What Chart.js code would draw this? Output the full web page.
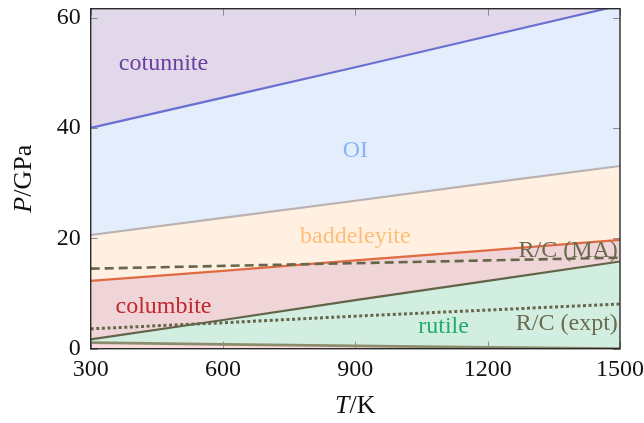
<!DOCTYPE html>
<html>
<head>
<meta charset="utf-8">
<title>TiO2 phase diagram</title>
<script src="https://cdn.jsdelivr.net/npm/chart.js@4/dist/chart.umd.min.js"></script>
<style>
  html, body { margin: 0; padding: 0; background: #fff; }
  #wrap { width: 644px; height: 423px; position: relative; }
</style>
</head>
<body>
<div id="wrap"><canvas id="c"></canvas></div>
<script>
// Temperatures (K) at which each phase boundary is sampled
const temps = [300, 600, 900, 1200, 1500];

// Phase boundaries, pressure in GPa
const cotunniteOI   = [40.0, 45.5, 51.0, 56.6, 62.2];
const oiBaddeleyite = [20.6, 23.7, 26.8, 30.0, 33.1];
const baddColumbite = [12.3, 14.1, 16.0, 17.8, 19.7];
const columbiteRut  = [1.7, 5.2, 8.8, 12.3, 15.8];
const lowerBound    = [1.1, 0.8, 0.5, 0.25, 0.0];

// Rutile/columbite transition lines
const rcMA   = [14.5, 15.0, 15.5, 16.0, 16.5];
const rcExpt = [3.6, 4.7, 5.9, 7.0, 8.1];

// Axis ticks
const xTicks = [300, 600, 900, 1200, 1500];
const yTicks = [0, 20, 40, 60];

// Region labels: text, T, P (anchor), colour, alignment
const regionLabels = [
  { text: 'cotunnite',  t: 465,  p: 50.5, color: '#6b3fa0', align: 'center' },
  { text: 'OI',         t: 900,  p: 34.7, color: '#8ab4f8', align: 'center' },
  { text: 'baddeleyite',t: 900,  p: 19.2, color: '#ffbe78', align: 'center' },
  { text: 'R/C (MA)',   t: 1495, p: 16.7, color: '#6b6b50', align: 'right' },
  { text: 'columbite',  t: 465,  p: 6.5,  color: '#c0282e', align: 'center' },
  { text: 'rutile',     t: 1100, p: 2.9,  color: '#22ad6e', align: 'center' },
  { text: 'R/C (expt)', t: 1495, p: 3.4,  color: '#6b6b50', align: 'right' }
];

const FONT = '"Liberation Serif", "Times New Roman", serif';

function pts(ys) { return temps.map((t, i) => ({ x: t, y: ys[i] })); }

// Frame, inward tick marks, axis titles and region labels
const decorations = {
  id: 'decorations',
  afterDatasetsDraw(chart) {
    const { ctx, chartArea: a, scales: { x, y } } = chart;
    ctx.save();
    ctx.font = '24px ' + FONT;
    ctx.textBaseline = 'alphabetic';
    regionLabels.forEach(l => {
      ctx.fillStyle = l.color;
      ctx.textAlign = l.align;
      ctx.fillText(l.text, x.getPixelForValue(l.t), y.getPixelForValue(l.p));
    });

    // inward tick marks
    ctx.strokeStyle = '#8c8c8c';
    ctx.lineWidth = 1;
    const len = 7;
    xTicks.forEach(v => {
      const px = Math.round(x.getPixelForValue(v)) + 0.5;
      ctx.beginPath();
      ctx.moveTo(px, a.bottom); ctx.lineTo(px, a.bottom - len);
      ctx.moveTo(px, a.top); ctx.lineTo(px, a.top + len);
      ctx.stroke();
    });
    yTicks.forEach(v => {
      const py = Math.round(y.getPixelForValue(v)) + 0.5;
      ctx.beginPath();
      ctx.moveTo(a.left, py); ctx.lineTo(a.left + len, py);
      ctx.moveTo(a.right, py); ctx.lineTo(a.right - len, py);
      ctx.stroke();
    });

    // frame
    ctx.strokeStyle = '#2a2a2a';
    ctx.lineWidth = 1.4;
    ctx.strokeRect(a.left, a.top, a.right - a.left, a.bottom - a.top);
    ctx.restore();
  },
  afterDraw(chart) {
    const { ctx, chartArea: a } = chart;
    ctx.save();
    ctx.fillStyle = '#111';
    ctx.textBaseline = 'alphabetic';
    // axis titles with an italic symbol followed by an upright unit
    const drawMixed = (parts, cx, baseY) => {
      let w = 0;
      parts.forEach(p => { ctx.font = p[1] + ' 26px ' + FONT; w += ctx.measureText(p[0]).width; });
      let cur = cx - w / 2;
      ctx.textAlign = 'left';
      parts.forEach(p => {
        ctx.font = p[1] + ' 26px ' + FONT;
        ctx.fillText(p[0], cur, baseY);
        cur += ctx.measureText(p[0]).width;
      });
    };
    drawMixed([['T', 'italic'], ['/K', 'normal']], (a.left + a.right) / 2, 413);
    ctx.translate(31, (a.top + a.bottom) / 2);
    ctx.rotate(-Math.PI / 2);
    drawMixed([['P', 'italic'], ['/GPa', 'normal']], 0, 0);
    ctx.restore();
  }
};

const lineBase = { pointRadius: 0, pointHoverRadius: 0, tension: 0, borderCapStyle: 'butt' };

new Chart(document.getElementById('c'), {
  type: 'line',
  data: {
    datasets: [
      Object.assign({ label: 'R/C (MA)', data: pts(rcMA), borderColor: '#66664a', borderWidth: 2.6, borderDash: [9, 5], fill: false }, lineBase),
      Object.assign({ label: 'R/C (expt)', data: pts(rcExpt), borderColor: '#66664a', borderWidth: 3, borderDash: [3, 2.6], fill: false }, lineBase),
      Object.assign({ label: 'lower', data: pts(lowerBound), borderColor: '#8c8b6c', borderWidth: 2.8, fill: 'origin', backgroundColor: '#fbdcdc' }, lineBase),
      Object.assign({ label: 'rutile', data: pts(columbiteRut), borderColor: '#626448', borderWidth: 2.2, fill: 2, backgroundColor: '#d2eee0' }, lineBase),
      Object.assign({ label: 'columbite', data: pts(baddColumbite), borderColor: '#e06a42', borderWidth: 2.2, fill: 3, backgroundColor: '#efd5d7' }, lineBase),
      Object.assign({ label: 'baddeleyite', data: pts(oiBaddeleyite), borderColor: '#bab1b1', borderWidth: 2.2, fill: 4, backgroundColor: '#fff0e1' }, lineBase),
      Object.assign({ label: 'OI', data: pts(cotunniteOI), borderColor: '#6a6fd2', borderWidth: 2.2, fill: 5, backgroundColor: '#e3edfc' }, lineBase),
      Object.assign({ label: 'cotunnite', data: pts(cotunniteOI), borderColor: 'rgba(0,0,0,0)', borderWidth: 0, fill: 'end', backgroundColor: '#e1d8ea' }, lineBase)
    ]
  },
  options: {
    responsive: true,
    maintainAspectRatio: false,
    devicePixelRatio: 1,
    animation: false,
    events: [],
    layout: { padding: { top: 8.7, right: 24, left: 0, bottom: 0 } },
    plugins: {
      legend: { display: false },
      tooltip: { enabled: false },
      filler: { drawTime: 'beforeDatasetsDraw' }
    },
    scales: {
      x: {
        type: 'linear',
        min: 300, max: 1500,
        grid: { display: false, drawTicks: false },
        border: { display: false },
        afterBuildTicks: s => { s.ticks = xTicks.map(v => ({ value: v })); },
        afterFit: s => { s.height = 74.3; s.paddingLeft = 0; s.paddingRight = 0; },
        ticks: { color: '#111', font: { family: FONT, size: 24 }, padding: 7, maxRotation: 0, autoSkip: false,
                 callback: v => String(v) }
      },
      y: {
        type: 'linear',
        min: 0, max: 61.6,
        grid: { display: false, drawTicks: false },
        border: { display: false },
        afterBuildTicks: s => { s.ticks = yTicks.map(v => ({ value: v })); },
        afterFit: s => { s.width = 90.7; s.paddingTop = 0; s.paddingBottom = 0; },
        ticks: { color: '#111', font: { family: FONT, size: 24 }, padding: 10, callback: v => String(v) }
      }
    }
  },
  plugins: [decorations]
});
</script>
</body>
</html>
